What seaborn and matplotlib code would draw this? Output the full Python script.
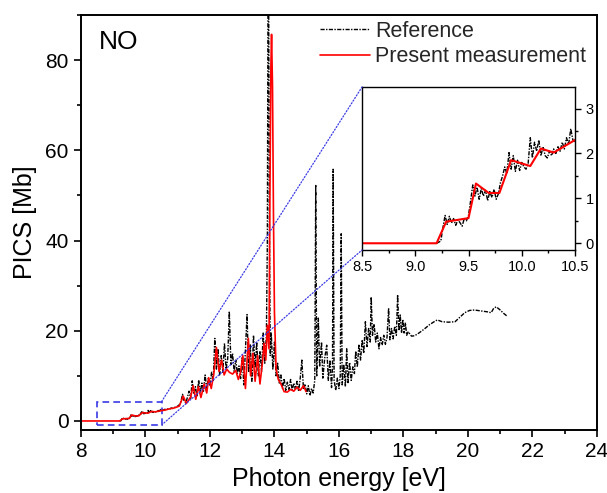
import matplotlib

matplotlib.use("Agg")
import matplotlib.pyplot as plt
import pandas as pd
import seaborn as sns
from matplotlib.patches import ConnectionPatch, Rectangle
from matplotlib.ticker import FormatStrFormatter, MultipleLocator

# reference spectrum (black)
ref_energy = [
    9.20, 9.24, 9.26, 9.28, 9.30, 9.32, 9.34, 9.36, 9.38, 9.40, 9.42, 9.44, 9.46, 9.48,
    9.50, 9.52, 9.54, 9.56, 9.58, 9.60, 9.62, 9.64, 9.66, 9.68, 9.70, 9.72, 9.74, 9.76,
    9.78, 9.80, 9.82, 9.84, 9.86, 9.88, 9.90, 9.92, 9.94, 9.96, 9.98, 10.00, 10.02, 10.04,
    10.06, 10.08, 10.10, 10.12, 10.14, 10.16, 10.18, 10.20, 10.22, 10.24, 10.26, 10.28,
    10.30, 10.32, 10.34, 10.36, 10.38, 10.40, 10.42, 10.44, 10.46, 10.48, 10.50,
    10.55, 10.60, 10.65, 10.70, 10.75, 10.80, 10.85, 10.90, 10.95, 11.00, 11.05, 11.10,
    11.15, 11.20, 11.25, 11.30, 11.35, 11.40, 11.45, 11.50, 11.55, 11.60, 11.65, 11.70,
    11.75, 11.80, 11.85, 11.90, 11.95, 12.00, 12.05, 12.10, 12.15, 12.20, 12.25, 12.30,
    12.35, 12.40, 12.45, 12.50, 12.55, 12.60, 12.65, 12.70, 12.75, 12.80, 12.85, 12.90,
    12.95, 13.00, 13.05, 13.10, 13.15, 13.20, 13.25, 13.30, 13.35, 13.40, 13.45, 13.50,
    13.55, 13.60, 13.65, 13.70, 13.75, 13.78, 13.80, 13.82, 13.84, 13.87, 13.90, 13.95,
    14.00, 14.05, 14.10, 14.15, 14.20, 14.25, 14.30, 14.35, 14.40, 14.45, 14.50, 14.55,
    14.60, 14.65, 14.70, 14.75, 14.80, 14.85, 14.90, 14.95, 15.00, 15.05, 15.10, 15.15,
    15.20, 15.25, 15.28, 15.31, 15.36, 15.40, 15.46, 15.50, 15.56, 15.62, 15.67, 15.72,
    15.77, 15.80, 15.82, 15.85, 15.90, 15.95, 16.00, 16.04, 16.07, 16.10, 16.15, 16.20,
    16.24, 16.28, 16.33, 16.38, 16.43, 16.48, 16.52, 16.57, 16.62, 16.67, 16.72, 16.77,
    16.82, 16.87, 16.92, 16.97, 17.00, 17.04, 17.09, 17.14, 17.19, 17.24, 17.29, 17.34,
    17.39, 17.44, 17.49, 17.54, 17.58, 17.63, 17.68, 17.73, 17.78, 17.82, 17.86, 17.90,
    17.94, 17.98, 18.02, 18.06, 18.10, 18.15, 18.25, 18.35, 18.50, 18.65, 18.80, 18.95,
    19.05, 19.20, 19.40, 19.60, 19.75, 19.90, 20.05, 20.20, 20.40, 20.60, 20.72, 20.80,
    20.88, 21.00, 21.10, 21.22,
]
ref_pics = [
    0.00, 0.05, 0.35, 0.62, 0.42, 0.60, 0.45, 0.55, 0.40, 0.52, 0.46, 0.38, 0.55, 0.50,
    0.62, 0.95, 1.30, 1.05, 1.25, 0.98, 1.22, 1.05, 1.18, 0.95, 1.15, 1.02, 1.20, 0.98,
    1.10, 1.35, 1.50, 1.70, 1.55, 2.02, 1.65, 1.95, 1.60, 1.85, 1.62, 1.80, 1.70, 1.65,
    1.78, 2.35, 1.90, 2.25, 2.05, 2.30, 1.95, 2.15, 1.95, 1.90, 2.05, 1.95,
    2.10, 2.00, 2.15, 2.05, 2.25, 2.10, 2.35, 2.20, 2.55, 2.30, 2.25,
    2.4, 2.6, 2.45, 2.7, 2.6, 2.9, 2.75, 3.0, 3.1, 3.3, 3.6, 4.3,
    5.9, 4.4, 4.0, 5.2, 6.6, 5.0, 8.9, 6.0, 7.6, 5.4, 9.1, 6.2,
    8.4, 6.6, 10.2, 7.0, 9.6, 7.8, 10.8, 8.8, 18.3, 11.5, 16.0, 10.2,
    14.5, 10.8, 17.2, 11.5, 13.8, 24.3, 12.5, 15.0, 11.0, 13.5, 10.5, 12.2,
    9.4, 14.2, 8.0, 15.8, 23.6, 10.8, 17.0, 8.8, 19.0, 11.8, 17.5, 10.0,
    15.5, 11.0, 19.5, 12.8, 19.0, 40.0, 95.0, 95.0, 48.0, 14.5, 19.5, 11.5,
    17.5, 10.0, 12.8, 8.4, 10.2, 7.2, 9.4, 6.8, 8.6, 7.0, 9.2, 6.8,
    8.4, 7.0, 8.8, 6.6, 9.5, 13.5, 7.0, 8.2, 6.0, 7.8, 5.6, 7.2,
    6.2, 9.0, 52.2, 10.0, 22.8, 12.0, 17.5, 9.5, 14.0, 16.8, 9.0, 13.5,
    7.4, 12.0, 55.8, 9.0, 6.8, 9.5, 7.2, 10.0, 41.5, 8.0, 12.5, 7.6,
    16.0, 8.5, 13.0, 9.0, 12.0, 10.5, 15.5, 12.0, 17.0, 13.5, 18.0, 15.0,
    22.0, 16.5, 20.5, 17.5, 27.5, 19.0, 21.5, 17.5, 19.5, 16.0, 18.5, 16.8,
    19.0, 17.0, 18.5, 25.0, 18.0, 20.5, 18.2, 21.0, 19.0, 28.0, 20.0, 23.5,
    19.5, 22.5, 19.5, 21.8, 19.0, 19.8, 18.8, 18.9, 19.6, 20.4, 21.3, 22.0,
    22.4, 22.0, 21.9, 22.0, 23.0, 24.0, 24.5, 24.6, 24.4, 24.2, 24.0, 25.0,
    25.3, 24.6, 23.9, 23.2,
]

# present measurement (red)
meas_energy = [
    8.00, 9.20, 9.29, 9.50, 9.57, 9.69, 9.79, 9.90, 10.08, 10.18, 10.30, 10.50,
    10.60, 10.75, 10.90, 11.05, 11.17, 11.27, 11.40, 11.48, 11.56, 11.64, 11.72, 11.82,
    11.90, 11.96, 12.04, 12.12, 12.20, 12.28, 12.36, 12.44, 12.52, 12.60, 12.70, 12.80,
    12.88, 12.94, 13.02, 13.10, 13.19, 13.26, 13.33, 13.40, 13.48, 13.55, 13.62, 13.68,
    13.73, 13.78, 13.83, 13.86, 13.89, 13.91, 13.94, 13.97, 14.00, 14.05, 14.12, 14.20,
    14.30, 14.40, 14.50, 14.60, 14.70, 14.80, 14.90, 14.98,
]
meas_pics = [
    0.0, 0.0, 0.48, 0.56, 1.33, 1.12, 1.12, 1.85, 1.72, 2.11, 2.02, 2.30,
    2.4, 2.7, 2.9, 3.3, 5.5, 3.9, 5.3, 7.8, 4.8, 7.6, 5.2, 8.2,
    6.2, 9.6, 7.2, 10.5, 16.3, 11.0, 13.5, 10.2, 11.5, 10.8, 10.4, 11.2,
    9.2, 10.5, 14.5, 7.2, 18.3, 10.0, 15.0, 8.8, 14.5, 8.2, 12.5, 17.2,
    13.5, 21.2, 16.0, 50.0, 79.0, 85.7, 74.0, 45.0, 24.0, 11.5, 9.2, 8.2,
    6.5, 6.4, 7.0, 6.6, 7.5, 6.8, 7.8, 6.5,
]

zoom_box_energy = [8.5, 10.5]
zoom_box_pics = [-0.9, 4.3]

sns.set_theme(style="white", context="notebook")
plt.rcParams["font.family"] = ["Liberation Sans", "DejaVu Sans"]
plt.rcParams["axes.linewidth"] = 1.4
plt.rcParams["xtick.direction"] = "out"
plt.rcParams["ytick.direction"] = "out"

reference = pd.DataFrame({"energy": ref_energy, "pics": ref_pics})
measurement = pd.DataFrame({"energy": meas_energy, "pics": meas_pics})

ref_style = dict(color="black", linewidth=1.0, linestyle=(0, (3, 1, 1, 1)))
meas_style = dict(color="red", linewidth=1.2)

figure = plt.figure(figsize=(6.07, 4.93), dpi=100)
axis = figure.add_axes([0.1334, 0.1278, 0.850, 0.8418])

sns.lineplot(data=reference, x="energy", y="pics", estimator=None, sort=False,
             label="Reference", ax=axis, **ref_style)
sns.lineplot(data=measurement, x="energy", y="pics", estimator=None, sort=False,
             label="Present measurement", ax=axis, **meas_style)

axis.set_xlim(8, 24)
axis.set_ylim(-2, 90)
axis.xaxis.set_major_locator(MultipleLocator(2))
axis.xaxis.set_minor_locator(MultipleLocator(1))
axis.yaxis.set_major_locator(MultipleLocator(20))
axis.yaxis.set_minor_locator(MultipleLocator(10))
axis.tick_params(which="both", bottom=True, left=True, top=False, right=False,
                 color="black", width=1.2, labelsize=15, labelcolor="black")
axis.tick_params(which="major", length=5, pad=4)
axis.tick_params(which="minor", length=3)
for spine in axis.spines.values():
    spine.set_color("black")
axis.set_xlabel("Photon energy [eV]", fontsize=18, labelpad=4, color="black")
axis.set_ylabel("PICS [Mb]", fontsize=18, labelpad=6, color="black")
axis.text(0.035, 0.935, "NO", transform=axis.transAxes, va="center", ha="left",
          fontsize=19, color="black")

axis.legend(loc="upper right", bbox_to_anchor=(1.0, 1.012), frameon=False, fontsize=15.5,
            handlelength=2.3, handletextpad=0.25, labelspacing=0.2, borderaxespad=0.1)

box_color = "#3a3ae6"
axis.add_patch(Rectangle((zoom_box_energy[0], zoom_box_pics[0]),
                         zoom_box_energy[1] - zoom_box_energy[0],
                         zoom_box_pics[1] - zoom_box_pics[0],
                         fill=False, edgecolor=box_color, linestyle=(0, (4, 2.5)),
                         linewidth=1.2, zorder=1))

inset = figure.add_axes([0.5964, 0.4929, 0.3509, 0.3306])
sns.lineplot(data=reference, x="energy", y="pics", estimator=None, sort=False,
             ax=inset, legend=False, **ref_style)
sns.lineplot(data=measurement, x="energy", y="pics", estimator=None, sort=False,
             ax=inset, legend=False, linewidth=1.5, color="red")
inset.set_xlim(8.5, 10.5)
inset.set_ylim(-0.15, 3.48)
inset.set_xlabel("")
inset.set_ylabel("")
inset.xaxis.set_major_locator(MultipleLocator(0.5))
inset.xaxis.set_minor_locator(MultipleLocator(0.25))
inset.yaxis.set_major_locator(MultipleLocator(1))
inset.yaxis.set_minor_locator(MultipleLocator(0.5))
inset.yaxis.tick_right()
inset.tick_params(which="both", bottom=True, right=True, left=False, top=False,
                  color="black", width=1.0, labelsize=10.5, labelcolor="black")
inset.tick_params(which="major", length=4)
inset.tick_params(which="minor", length=2.5)
inset.xaxis.set_major_formatter(FormatStrFormatter("%.1f"))
for spine in inset.spines.values():
    spine.set_color("black")
    spine.set_linewidth(1.0)

for corner_y, inset_y in ((zoom_box_pics[1], 1.0), (zoom_box_pics[0], 0.0)):
    link = ConnectionPatch(xyA=(zoom_box_energy[1], corner_y), coordsA=axis.transData,
                           xyB=(0.0, inset_y), coordsB=inset.transAxes,
                           color=box_color, linestyle=(0, (1, 1.5)), linewidth=0.9)
    link.set_zorder(0.5)
    figure.add_artist(link)

figure.savefig("out.png", dpi=100, facecolor="white")
plt.close(figure)
